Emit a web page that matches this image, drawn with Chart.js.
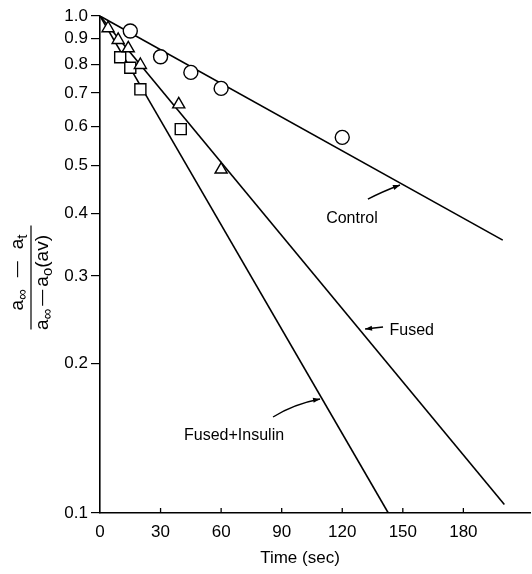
<!DOCTYPE html>
<html>
<head>
<meta charset="utf-8">
<script src="https://cdn.jsdelivr.net/npm/chart.js@4/dist/chart.umd.min.js"></script>
<style>
html,body{margin:0;padding:0;background:#fff;}
canvas{display:block;}
</style>
</head>
<body>
<canvas id="c" width="532" height="574" style="width:532px;height:574px"></canvas>
<script>
// ---- data ----
const controlTime  = [15, 30, 45, 60, 120];
const controlRatio = [0.933, 0.828, 0.770, 0.715, 0.570];
const fusedTime    = [4, 9, 14, 20, 39, 60];
const fusedRatio   = [0.945, 0.895, 0.861, 0.797, 0.664, 0.491];
const insulinTime  = [10, 15, 20, 40];
const insulinRatio = [0.826, 0.787, 0.712, 0.592];

const controlFitTime  = [0, 199.5];
const controlFitRatio = [1.0, 0.354];
const fusedFitTime    = [0, 200.3];
const fusedFitRatio   = [1.0, 0.104];
const insulinFitTime  = [0, 142.8];
const insulinFitRatio = [1.0, 0.1];

const xTickValues = [0, 30, 60, 90, 120, 150, 180];
const yTickValues = [0.1, 0.2, 0.3, 0.4, 0.5, 0.6, 0.7, 0.8, 0.9, 1.0];

const seriesNames = ['Control', 'Fused', 'Fused+Insulin'];

const FONT = '"Liberation Sans", Arimo, Arial, Helvetica, sans-serif';

function pts(xs, ys) { return xs.map((x, i) => ({x: x, y: ys[i]})); }

// annotation layout (data coordinates)
const notes = [
  {text: seriesNames[0], at: [124.8, 0.392], align: 'center',
   arrow: {tail: [132.7, 0.428], ctrl: [139.7, 0.443], head: [148.6, 0.457]}},
  {text: seriesNames[1], at: [143.4, 0.2323], align: 'left',
   arrow: {tail: [140.2, 0.2367], ctrl: [135.7, 0.2356], head: [131.3, 0.2345]}},
  {text: seriesNames[2], at: [66.4, 0.1429], align: 'center',
   arrow: {tail: [85.7, 0.156], ctrl: [95.6, 0.1655], head: [109, 0.1696]}}
];

const extras = {
  id: 'extras',
  afterDraw(chart) {
    const ctx = chart.ctx, xs = chart.scales.x, ys = chart.scales.y;
    const area = chart.chartArea;
    ctx.save();
    ctx.strokeStyle = '#000'; ctx.fillStyle = '#000';
    // inner x tick marks
    ctx.lineWidth = 1.3;
    xTickValues.forEach(v => {
      if (v === 0) return;
      const px = xs.getPixelForValue(v);
      ctx.beginPath(); ctx.moveTo(px, area.bottom); ctx.lineTo(px, area.bottom - 5); ctx.stroke();
    });
    // annotations
    const P = p => [xs.getPixelForValue(p[0]), ys.getPixelForValue(p[1])];
    ctx.font = '16px ' + FONT;
    ctx.textBaseline = 'middle';
    notes.forEach(n => {
      const [tx, ty] = P(n.at);
      ctx.textAlign = n.align;
      ctx.fillText(n.text, tx, ty);
      const t = P(n.arrow.tail), c = P(n.arrow.ctrl), h = P(n.arrow.head);
      ctx.lineWidth = 1.4;
      ctx.beginPath(); ctx.moveTo(t[0], t[1]); ctx.quadraticCurveTo(c[0], c[1], h[0], h[1]); ctx.stroke();
      const ang = Math.atan2(h[1] - c[1], h[0] - c[0]);
      const L = 7, W = 2.6;
      ctx.beginPath();
      ctx.moveTo(h[0], h[1]);
      ctx.lineTo(h[0] - L * Math.cos(ang) + W * Math.sin(ang), h[1] - L * Math.sin(ang) - W * Math.cos(ang));
      ctx.lineTo(h[0] - L * Math.cos(ang) - W * Math.sin(ang), h[1] - L * Math.sin(ang) + W * Math.cos(ang));
      ctx.closePath(); ctx.fill();
    });
    // x axis title
    ctx.font = '17px ' + FONT;
    ctx.textAlign = 'center';
    ctx.fillText('Time (sec)', 300, 558);
    // y axis title (fraction), rotated
    ctx.translate(31, 277.5);
    ctx.rotate(-Math.PI / 2);
    const FONTS = ['19px ' + FONT, '15px ' + FONT, '16px ' + FONT];
    // runs: [text, kind] kind 0 = main, 1 = subscript, 2 = dash (gaps around it stretched to target)
    const drawRuns = (runs, cx, cy, target) => {
      let w = 0, nd = 0;
      runs.forEach(r => { ctx.font = FONTS[r[1]]; w += ctx.measureText(r[0]).width; if (r[1] === 2) nd++; });
      const gap = Math.max(2, (target - w) / (2 * nd));
      let x = cx - (w + gap * 2 * nd) / 2;
      ctx.textAlign = 'left';
      runs.forEach(r => {
        ctx.font = FONTS[r[1]];
        if (r[1] === 2) x += gap;
        ctx.fillText(r[0], x, r[1] === 1 ? cy + 5 : cy);
        x += ctx.measureText(r[0]).width;
        if (r[1] === 2) x += gap;
      });
    };
    drawRuns([['a', 0], ['\u221e', 1], ['\u2014', 2], ['a', 0], ['t', 1]], 5, -13, 76);
    drawRuns([['a', 0], ['\u221e', 1], ['\u2014', 2], ['a', 0], ['o', 1], ['(av)', 0]], -5, 12, 95);
    ctx.lineWidth = 1.2;
    ctx.beginPath(); ctx.moveTo(-52, 0); ctx.lineTo(52, 0); ctx.stroke();
    ctx.restore();
  }
};

const marker = {borderColor: '#000', backgroundColor: '#fff', borderWidth: 1.4, showLine: false};
const fitLine = {borderColor: '#000', borderWidth: 1.6, pointRadius: 0, showLine: true, tension: 0, fill: false};

new Chart(document.getElementById('c'), {
  type: 'scatter',
  data: {
    datasets: [
      Object.assign({label: seriesNames[0], data: pts(controlTime, controlRatio), pointStyle: 'circle', pointRadius: 7}, marker),
      Object.assign({label: seriesNames[1], data: pts(fusedTime, fusedRatio), pointStyle: 'triangle', pointRadius: 7}, marker),
      Object.assign({label: seriesNames[2], data: pts(insulinTime, insulinRatio), pointStyle: 'rect', pointRadius: 7.8}, marker),
      Object.assign({label: seriesNames[0] + ' fit', data: pts(controlFitTime, controlFitRatio)}, fitLine),
      Object.assign({label: seriesNames[1] + ' fit', data: pts(fusedFitTime, fusedFitRatio)}, fitLine),
      Object.assign({label: seriesNames[2] + ' fit', data: pts(insulinFitTime, insulinFitRatio)}, fitLine)
    ]
  },
  options: {
    responsive: false,
    animation: false,
    devicePixelRatio: 1,
    layout: {autoPadding: false, padding: {top: 16, right: 2, left: 0, bottom: 0}},
    plugins: {legend: {display: false}, tooltip: {enabled: false}},
    scales: {
      x: {
        type: 'linear', min: 0, max: 213,
        afterBuildTicks: s => { s.ticks = xTickValues.map(v => ({value: v})); },
        afterFit: s => { s.height = 61; s.paddingLeft = 0; s.paddingRight = 0; },
        ticks: {autoSkip: false, maxRotation: 0, padding: 9, color: '#000', font: {family: FONT, size: 17}},
        grid: {display: false, drawTicks: false},
        border: {display: true, color: '#000', width: 1.6}
      },
      y: {
        type: 'logarithmic', min: 0.1, max: 1.0,
        afterBuildTicks: s => { s.ticks = yTickValues.map(v => ({value: v})); },
        afterFit: s => { s.width = 100; s.paddingTop = 0; s.paddingBottom = 0; },
        ticks: {autoSkip: false, padding: 3, color: '#000', font: {family: FONT, size: 17},
                callback: v => Number(v).toFixed(1)},
        grid: {display: true, drawOnChartArea: false, drawTicks: true, tickLength: 9, color: '#000', lineWidth: 1.2},
        border: {display: true, color: '#000', width: 1.6}
      }
    }
  },
  plugins: [extras]
});
</script>
</body>
</html>
